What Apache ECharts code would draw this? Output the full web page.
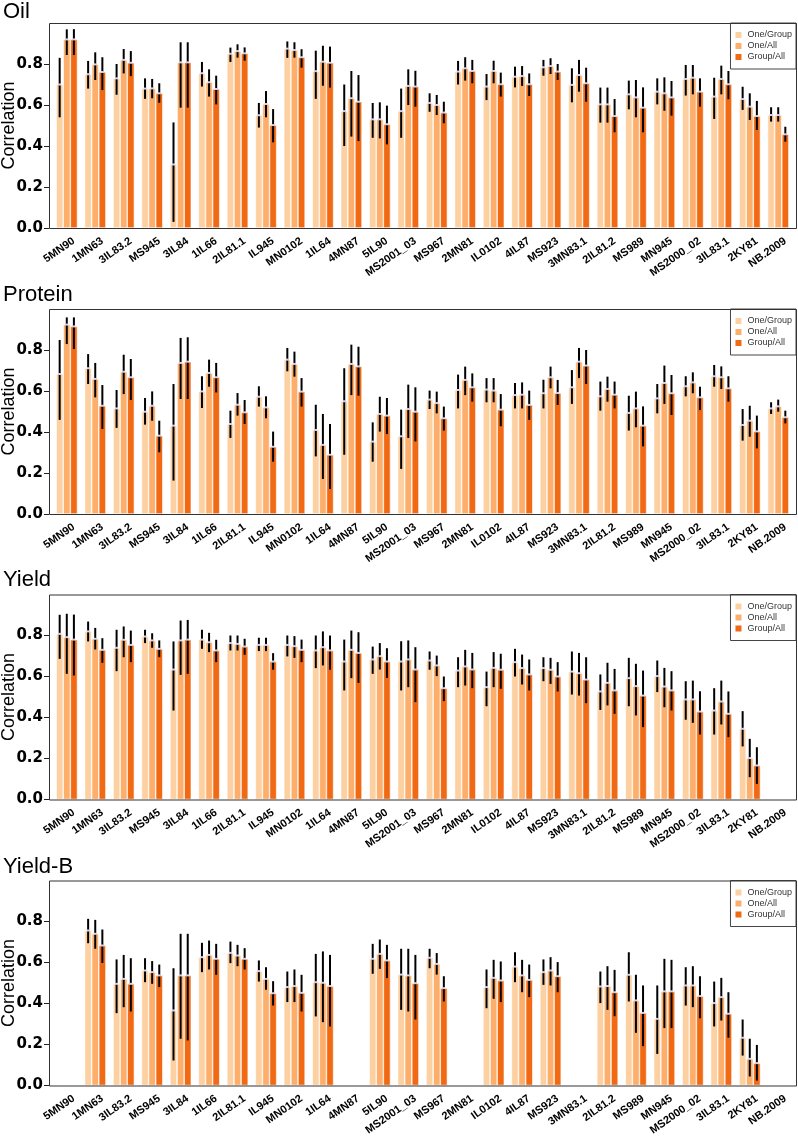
<!DOCTYPE html>
<html>
<head>
<meta charset="utf-8">
<script src="https://cdn.jsdelivr.net/npm/echarts@6/dist/echarts.min.js"></script>
<style>html,body{margin:0;padding:0;background:#fff}#c{width:798px;height:1146px}</style>
</head>
<body>
<div id="c"></div>
<script>
const categories = ['5MN90','1MN63','3IL83.2','MS945','3IL84','1IL66','2IL81.1','IL945','MN0102','1IL64','4MN87','5IL90','MS2001_03','MS967','2MN81','IL0102','4IL87','MS923','3MN83.1','2IL81.2','MS989','MN945','MS2000_02','3IL83.1','2KY81','NB.2009'];
const seriesNames = ['One/Group','One/All','Group/All'];
const yTicks = [0, 0.2, 0.4, 0.6, 0.8];

// [value, lower, upper]
const OIL_ONE_GROUP = [[0.70,0.54,0.83],[0.75,0.68,0.815],[0.73,0.65,0.80],[0.68,0.63,0.73],[0.31,0.03,0.515],[0.755,0.69,0.81],[0.85,0.81,0.88],[0.55,0.49,0.61],[0.875,0.83,0.91],[0.765,0.63,0.865],[0.57,0.40,0.70],[0.53,0.44,0.61],[0.57,0.44,0.68],[0.61,0.567,0.657],[0.763,0.70,0.815],[0.69,0.624,0.751],[0.738,0.686,0.787],[0.784,0.743,0.82],[0.698,0.613,0.779],[0.603,0.514,0.685],[0.652,0.579,0.719],[0.665,0.603,0.73],[0.727,0.646,0.795],[0.641,0.532,0.733],[0.629,0.576,0.689],[0.551,0.519,0.589]];
const OIL_ONE_ALL = [[0.92,0.844,0.969],[0.798,0.722,0.857],[0.82,0.754,0.873],[0.681,0.633,0.727],[0.808,0.587,0.906],[0.711,0.641,0.774],[0.863,0.831,0.896],[0.605,0.54,0.668],[0.868,0.831,0.906],[0.811,0.694,0.889],[0.633,0.446,0.766],[0.53,0.437,0.613],[0.693,0.60,0.774],[0.60,0.551,0.649],[0.779,0.719,0.833],[0.766,0.706,0.816],[0.741,0.693,0.79],[0.79,0.751,0.828],[0.746,0.665,0.82],[0.603,0.514,0.685],[0.637,0.54,0.722],[0.657,0.572,0.735],[0.733,0.652,0.795],[0.727,0.652,0.792],[0.592,0.527,0.657],[0.551,0.519,0.589]];
const OIL_GROUP_ALL = [[0.92,0.844,0.97],[0.761,0.673,0.833],[0.806,0.741,0.863],[0.657,0.611,0.706],[0.808,0.587,0.906],[0.678,0.603,0.743],[0.852,0.816,0.881],[0.502,0.418,0.58],[0.833,0.782,0.872],[0.806,0.685,0.885],[0.616,0.424,0.746],[0.506,0.408,0.597],[0.69,0.592,0.767],[0.563,0.511,0.616],[0.766,0.706,0.82],[0.701,0.641,0.758],[0.701,0.644,0.754],[0.763,0.722,0.80],[0.706,0.616,0.782],[0.546,0.467,0.629],[0.587,0.467,0.686],[0.637,0.548,0.717],[0.665,0.592,0.73],[0.701,0.628,0.766],[0.546,0.478,0.62],[0.457,0.421,0.494]];

const PROTEIN_ONE_GROUP = [[0.683,0.459,0.849],[0.711,0.634,0.78],[0.515,0.42,0.605],[0.499,0.436,0.566],[0.431,0.163,0.634],[0.598,0.517,0.672],[0.439,0.371,0.504],[0.572,0.524,0.623],[0.753,0.696,0.81],[0.41,0.281,0.533],[0.55,0.289,0.711],[0.353,0.255,0.447],[0.379,0.22,0.509],[0.558,0.512,0.602],[0.605,0.515,0.68],[0.607,0.545,0.663],[0.58,0.515,0.639],[0.589,0.515,0.655],[0.618,0.537,0.702],[0.574,0.504,0.646],[0.493,0.407,0.577],[0.564,0.491,0.634],[0.623,0.574,0.672],[0.672,0.621,0.727],[0.434,0.358,0.512],[0.515,0.488,0.545]];
const PROTEIN_ONE_ALL = [[0.924,0.829,0.959],[0.659,0.569,0.737],[0.694,0.585,0.777],[0.528,0.455,0.598],[0.737,0.561,0.859],[0.688,0.621,0.753],[0.533,0.48,0.59],[0.52,0.467,0.574],[0.732,0.67,0.792],[0.337,0.171,0.488],[0.732,0.58,0.826],[0.488,0.402,0.572],[0.512,0.371,0.631],[0.541,0.491,0.597],[0.654,0.58,0.719],[0.602,0.545,0.663],[0.582,0.515,0.642],[0.667,0.613,0.719],[0.743,0.663,0.81],[0.61,0.548,0.67],[0.515,0.423,0.597],[0.639,0.537,0.724],[0.642,0.589,0.691],[0.667,0.61,0.72],[0.455,0.377,0.528],[0.525,0.499,0.558]];
const PROTEIN_GROUP_ALL = [[0.915,0.805,0.959],[0.528,0.415,0.629],[0.667,0.556,0.756],[0.382,0.301,0.455],[0.743,0.561,0.862],[0.667,0.593,0.737],[0.496,0.439,0.556],[0.328,0.255,0.402],[0.597,0.524,0.663],[0.289,0.122,0.439],[0.72,0.577,0.816],[0.48,0.39,0.566],[0.499,0.354,0.618],[0.467,0.407,0.524],[0.618,0.548,0.686],[0.509,0.428,0.585],[0.532,0.459,0.602],[0.59,0.532,0.654],[0.724,0.634,0.80],[0.582,0.515,0.646],[0.431,0.33,0.525],[0.589,0.483,0.678],[0.569,0.507,0.621],[0.613,0.548,0.672],[0.403,0.32,0.48],[0.472,0.442,0.504]];

const YIELD_ONE_GROUP = [[0.808,0.686,0.901],[0.82,0.771,0.868],[0.74,0.626,0.828],[0.795,0.763,0.828],[0.634,0.434,0.771],[0.78,0.735,0.828],[0.763,0.727,0.80],[0.754,0.724,0.789],[0.754,0.698,0.80],[0.727,0.641,0.80],[0.673,0.532,0.78],[0.683,0.613,0.746],[0.673,0.532,0.772],[0.678,0.633,0.722],[0.629,0.548,0.694],[0.548,0.455,0.624],[0.67,0.60,0.735],[0.641,0.577,0.694],[0.624,0.512,0.722],[0.527,0.437,0.61],[0.592,0.455,0.691],[0.602,0.524,0.678],[0.488,0.389,0.577],[0.434,0.317,0.543],[0.345,0.259,0.431],null];
const YIELD_ONE_ALL = [[0.792,0.613,0.906],[0.784,0.732,0.837],[0.779,0.694,0.844],[0.776,0.74,0.811],[0.776,0.608,0.873],[0.767,0.719,0.813],[0.759,0.727,0.80],[0.754,0.724,0.789],[0.748,0.691,0.797],[0.743,0.654,0.82],[0.73,0.592,0.824],[0.699,0.634,0.763],[0.683,0.548,0.776],[0.654,0.602,0.702],[0.649,0.556,0.73],[0.642,0.548,0.719],[0.641,0.561,0.707],[0.633,0.564,0.691],[0.616,0.507,0.715],[0.569,0.459,0.667],[0.553,0.41,0.662],[0.551,0.45,0.642],[0.488,0.374,0.58],[0.478,0.366,0.58],[0.202,0.109,0.296],null];
const YIELD_GROUP_ALL = [[0.78,0.605,0.902],[0.73,0.667,0.787],[0.754,0.67,0.824],[0.735,0.694,0.776],[0.78,0.613,0.876],[0.727,0.67,0.779],[0.746,0.706,0.784],[0.673,0.633,0.714],[0.73,0.67,0.78],[0.727,0.633,0.80],[0.715,0.569,0.816],[0.673,0.593,0.738],[0.634,0.475,0.743],[0.543,0.48,0.60],[0.634,0.543,0.715],[0.633,0.54,0.711],[0.61,0.532,0.683],[0.60,0.527,0.67],[0.585,0.47,0.694],[0.532,0.418,0.637],[0.507,0.353,0.629],[0.532,0.434,0.626],[0.429,0.317,0.528],[0.418,0.304,0.527],[0.166,0.076,0.255],null];

const YIELDB_ONE_GROUP = [null,[0.756,0.694,0.813],[0.496,0.353,0.615],[0.561,0.504,0.621],[0.366,0.122,0.572],[0.626,0.553,0.696],[0.647,0.597,0.702],[0.558,0.507,0.61],[0.48,0.407,0.556],[0.504,0.337,0.642],null,[0.618,0.545,0.691],[0.541,0.369,0.667],[0.623,0.572,0.667],null,[0.48,0.377,0.566],[0.58,0.504,0.65],[0.553,0.491,0.615],null,[0.483,0.402,0.556],[0.54,0.41,0.65],[0.325,0.154,0.488],[0.488,0.39,0.577],[0.402,0.288,0.507],[0.233,0.146,0.322],null];
const YIELDB_ONE_ALL = [null,[0.74,0.667,0.808],[0.52,0.382,0.637],[0.553,0.496,0.607],[0.537,0.228,0.74],[0.637,0.566,0.707],[0.634,0.582,0.686],[0.52,0.467,0.577],[0.485,0.407,0.566],[0.501,0.309,0.654],null,[0.642,0.569,0.712],[0.537,0.361,0.667],[0.593,0.541,0.646],null,[0.525,0.423,0.613],[0.537,0.455,0.613],[0.561,0.488,0.626],null,[0.485,0.369,0.582],[0.415,0.257,0.54],[0.459,0.28,0.618],[0.488,0.382,0.582],[0.431,0.317,0.525],[0.13,0.044,0.228],null];
const YIELDB_GROUP_ALL = [null,[0.683,0.598,0.761],[0.496,0.361,0.621],[0.537,0.48,0.59],[0.537,0.22,0.74],[0.618,0.54,0.691],[0.618,0.566,0.67],[0.45,0.39,0.509],[0.452,0.361,0.54],[0.485,0.288,0.637],null,[0.61,0.524,0.686],[0.499,0.322,0.637],[0.475,0.41,0.533],null,[0.512,0.407,0.605],[0.515,0.431,0.59],[0.533,0.455,0.602],null,[0.455,0.338,0.564],[0.354,0.192,0.488],[0.459,0.28,0.613],[0.436,0.328,0.533],[0.35,0.233,0.455],[0.109,0.024,0.198],null];

const panelTitles = ['Oil','Protein','Yield','Yield-B'];
const panelData = [
  [OIL_ONE_GROUP, OIL_ONE_ALL, OIL_GROUP_ALL],
  [PROTEIN_ONE_GROUP, PROTEIN_ONE_ALL, PROTEIN_GROUP_ALL],
  [YIELD_ONE_GROUP, YIELD_ONE_ALL, YIELD_GROUP_ALL],
  [YIELDB_ONE_GROUP, YIELDB_ONE_ALL, YIELDB_GROUP_ALL]
];

// layout
const COLORS = ['#FDD0A2', '#FDAE6B', '#F16913'];
const FRAME_L = 49, FRAME_R = 796, W = 798;
const PANEL_TOPS = [23, 309, 594.5, 880.5];
const TITLE_TOPS = [1, 284, 569, 856];
const PANEL_H = 205;
const UNIT = (FRAME_R - FRAME_L) / (categories.length * 4 + 1);
const GRID_L = FRAME_L + UNIT / 2;
const GRID_W = categories.length * 4 * UNIT;
const LABEL_SHIFT = 7;

const grids = [], xAxes = [], yAxes = [], series = [], titles = [], legends = [], graphics = [];

function errRenderer(sIdx) {
  return function (params, api) {
    const cat = api.value(0);
    const v = api.value(1), lo = api.value(2), hi = api.value(3);
    const bw = api.size([1, 0])[0];
    const c = api.coord([cat, v]);
    const x = c[0] + (sIdx - 1) * bw / 4;
    const pl = api.coord([cat, lo]);
    const ph = api.coord([cat, hi]);
    return {
      type: 'group',
      children: [
        { type: 'line', shape: { x1: x, y1: pl[1], x2: x, y2: ph[1] }, style: { stroke: '#000', lineWidth: 2 } },
        { type: 'rect', shape: { x: x - 1.5, y: c[1] - 1, width: 3, height: 2 }, style: { fill: '#D6D2F2' } }
      ]
    };
  };
}

panelTitles.forEach((t, p) => {
  const top = PANEL_TOPS[p];
  grids.push({ left: GRID_L, top: top, width: GRID_W, height: PANEL_H, containLabel: false, outerBoundsMode: 'none' });
  grids.push({ left: GRID_L + LABEL_SHIFT, top: top, width: GRID_W, height: PANEL_H, containLabel: false, outerBoundsMode: 'none' });
  xAxes.push({
    type: 'category', gridIndex: 2 * p, data: categories,
    axisLine: { show: false }, axisTick: { show: false }, axisLabel: { show: false }, splitLine: { show: false }
  });
  xAxes.push({
    type: 'category', gridIndex: 2 * p + 1, data: categories,
    axisLine: { show: false }, axisTick: { show: false }, splitLine: { show: false },
    axisLabel: { interval: 0, rotate: 35, margin: 12, fontSize: 11, fontWeight: 'bold', fontFamily: 'Liberation Sans', color: '#000' }
  });
  yAxes.push({
    type: 'value', gridIndex: 2 * p, min: 0, max: 1, interval: 0.2, offset: GRID_L - FRAME_L,
    axisLine: { show: false }, splitLine: { show: false },
    axisTick: { show: true, length: 5, lineStyle: { color: '#222' } },
    axisLabel: { margin: 6, fontSize: 15, fontWeight: 'bold', fontFamily: 'DejaVu Sans', color: '#000',
      showMaxLabel: false, formatter: v => (yTicks.indexOf(Math.round(v * 10) / 10) >= 0 ? v.toFixed(1) : '') },
    name: 'Correlation', nameLocation: 'middle', nameRotate: 90, nameGap: 31, nameMoveOverlap: false,
    nameTextStyle: { fontSize: 18, fontFamily: 'Liberation Sans', color: '#000' }
  });
  yAxes.push({ type: 'value', gridIndex: 2 * p + 1, min: 0, max: 1, show: false });

  panelData[p].forEach((arr, s) => {
    series.push({
      type: 'bar', name: seriesNames[s], xAxisIndex: 2 * p, yAxisIndex: 2 * p,
      data: arr.map(d => (d ? d[0] : '-')),
      barWidth: '25%', barGap: '0%', silent: true,
      itemStyle: { color: COLORS[s], borderColor: '#fff', borderWidth: 0.6 }
    });
  });
  panelData[p].forEach((arr, s) => {
    series.push({
      type: 'custom', name: 'err' + p + '_' + s, xAxisIndex: 2 * p, yAxisIndex: 2 * p,
      data: arr.map((d, i) => (d ? [i, d[0], d[1], d[2]] : null)).filter(Boolean),
      encode: { x: 0, y: 1 }, renderItem: errRenderer(s), silent: true, z: 3
    });
  });

  titles.push({ text: t, left: 3, top: TITLE_TOPS[p], padding: 0,
    textStyle: { fontSize: 22, fontWeight: 'normal', fontFamily: 'Liberation Sans', color: '#000' } });

  legends.push({
    data: seriesNames, orient: 'vertical', right: W - FRAME_R, top: top,
    icon: 'rect', itemWidth: 8, itemHeight: 8, itemGap: 1, selectedMode: false,
    padding: [7, 4, 7, 3], borderColor: '#444', borderWidth: 1, backgroundColor: '#fff', borderRadius: 0,
    textStyle: { fontSize: 9, lineHeight: 9, fontFamily: 'Liberation Sans', color: '#333' }
  });

  graphics.push({
    type: 'rect', silent: true, z: 50,
    shape: { x: FRAME_L + 0.5, y: top + 0.5, width: FRAME_R - FRAME_L, height: PANEL_H },
    style: { fill: 'none', stroke: '#333', lineWidth: 1 }
  });
});

const chart = echarts.init(document.getElementById('c'), null, { renderer: 'canvas' });
chart.setOption({
  animation: false,
  backgroundColor: '#fff',
  title: titles,
  legend: legends,
  grid: grids,
  xAxis: xAxes,
  yAxis: yAxes,
  series: series,
  graphic: graphics
});
</script>
</body>
</html>
